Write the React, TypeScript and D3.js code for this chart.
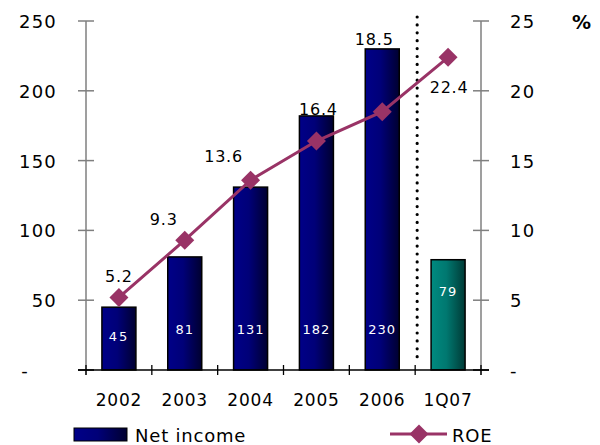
import React from "react";
import * as d3 from "d3";

const categories = ["2002", "2003", "2004", "2005", "2006", "1Q07"];
const netIncome = [45, 81, 131, 182, 230, 79];
const roe = [5.2, 9.3, 13.6, 16.4, 18.5, 22.4];
const leftTicks = [0, 50, 100, 150, 200, 250];
const rightTicks = [0, 5, 10, 15, 20, 25];

// label placement (layout, not data)
const roeLabelDx = [0, -21, -27, 2, -8, 1];
const roeLabelDy = [-15, -15, -18, -26, -67, 36];

const W = 600;
const H = 445;
const x0 = 86;
const x1 = 481;
const yTop = 21;
const yBot = 370;

const FONT = "DejaVu Sans, Verdana, sans-serif";

export default function App() {
  const band = d3.scaleBand<string>().domain(categories).range([x0, x1]);
  const yL = d3.scaleLinear().domain([0, 250]).range([yBot, yTop]);
  const yR = d3.scaleLinear().domain([0, 25]).range([yBot, yTop]);
  const cx = (c: string) => (band(c) as number) + band.bandwidth() / 2;
  const line = d3
    .line<number>()
    .x((_, i) => cx(categories[i]))
    .y((d) => yR(d));
  const bw = 34;
  const dividerX = (band("1Q07") as number) + 2;
  const diamond = d3.symbol().type(d3.symbolDiamond2).size(230)() as string;
  const axisColor = "#7f7f7f";

  return (
    <svg width={W} height={H} style={{ position: "absolute", left: 0, top: 0 }} fontFamily={FONT}>
      <defs>
        <linearGradient id="navy" x1="0" x2="1" y1="0" y2="0">
          <stop offset="0" stopColor="#000088" />
          <stop offset="0.45" stopColor="#000078" />
          <stop offset="1" stopColor="#000030" />
        </linearGradient>
        <linearGradient id="teal" x1="0" x2="1" y1="0" y2="0">
          <stop offset="0" stopColor="#008a80" />
          <stop offset="0.45" stopColor="#007870" />
          <stop offset="1" stopColor="#003a36" />
        </linearGradient>
      </defs>
      <rect width={W} height={H} fill="#fff" />

      {/* bars */}
      {categories.map((c, i) => {
        const xc = cx(c);
        const isQ = c === "1Q07";
        return (
          <g key={c}>
            <rect
              x={xc - bw / 2}
              y={yL(netIncome[i])}
              width={bw}
              height={yBot - yL(netIncome[i])}
              fill={isQ ? "url(#teal)" : "url(#navy)"}
              stroke="#000"
              strokeWidth={1.5}
            />
            <text
              x={xc}
              y={isQ ? 296 : i === 0 ? 341 : 334}
              fill="#fff"
              fontSize={13}
              textAnchor="middle"
              letterSpacing={i === 0 ? 2 : 1}
            >
              {netIncome[i]}
            </text>
          </g>
        );
      })}

      {/* dotted divider */}
      <line
        x1={dividerX}
        x2={dividerX}
        y1={17}
        y2={363}
        stroke="#000"
        strokeWidth={3.2}
        strokeLinecap="round"
        strokeDasharray="0 7.9"
      />

      {/* axes */}
      <line x1={x0} x2={x0} y1={yTop} y2={yBot + 5} stroke={axisColor} strokeWidth={1.5} />
      <line x1={x1} x2={x1} y1={yTop} y2={yBot + 5} stroke={axisColor} strokeWidth={1.5} />
      <line x1={x0 - 8} x2={x1 + 8} y1={yBot} y2={yBot} stroke="#000" strokeWidth={1.5} />
      {leftTicks.map((t) => (
        <g key={"l" + t}>
          <line x1={x0 - 8} x2={x0 + 8} y1={yL(t)} y2={yL(t)} stroke={t === 0 ? "#000" : axisColor} strokeWidth={1.5} />
          <text
            x={t === 0 ? 29 : 57}
            y={yL(t) + 7}
            fontSize={18}
            textAnchor="end"
            letterSpacing={1.2}
            fill="#000"
          >
            {t === 0 ? "-" : t}
          </text>
        </g>
      ))}
      {rightTicks.map((t) => (
        <g key={"r" + t}>
          <line x1={x1 - 8} x2={x1 + 8} y1={yR(t)} y2={yR(t)} stroke={t === 0 ? "#000" : axisColor} strokeWidth={1.5} />
          <text x={510} y={yR(t) + 7} fontSize={18} textAnchor="start" letterSpacing={1.2} fill="#000">
            {t === 0 ? "-" : t}
          </text>
        </g>
      ))}
      <text x={572} y={29} fontSize={19} fontWeight="bold" fill="#000">
        %
      </text>
      {categories.map((c) => (
        <line key={"xt" + c} x1={band(c) as number} x2={band(c) as number} y1={yBot - 5} y2={yBot + 5} stroke="#000" strokeWidth={1.3} />
      ))}
      <line x1={x1} x2={x1} y1={yBot - 5} y2={yBot + 5} stroke="#000" strokeWidth={1.3} />
      {categories.map((c) => (
        <text key={"xl" + c} x={cx(c)} y={406} fontSize={17} textAnchor="middle" letterSpacing={0.8} fill="#000">
          {c}
        </text>
      ))}

      {/* ROE line */}
      <path d={line(roe) as string} fill="none" stroke="#993366" strokeWidth={3} />
      {roe.map((v, i) => (
        <path key={"m" + i} d={diamond} transform={`translate(${cx(categories[i])},${yR(v)})`} fill="#993366" />
      ))}
      {roe.map((v, i) => (
        <text
          key={"rl" + i}
          x={cx(categories[i]) + roeLabelDx[i]}
          y={yR(v) + roeLabelDy[i]}
          fontSize={16}
          textAnchor="middle"
          letterSpacing={0.8}
          fill="#000"
        >
          {v.toFixed(1)}
        </text>
      ))}

      {/* legend */}
      <rect x={74} y={428} width={53} height={13} fill="url(#navy)" stroke="#000" strokeWidth={1} />
      <text x={135} y={442} fontSize={18} letterSpacing={0.8} fill="#000">
        Net income
      </text>
      <line x1={390} x2={447} y1={434} y2={434} stroke="#993366" strokeWidth={3} />
      <path d={diamond} transform="translate(419,434)" fill="#993366" />
      <text x={452} y={442} fontSize={18} letterSpacing={0.8} fill="#000">
        ROE
      </text>
    </svg>
  );
}
